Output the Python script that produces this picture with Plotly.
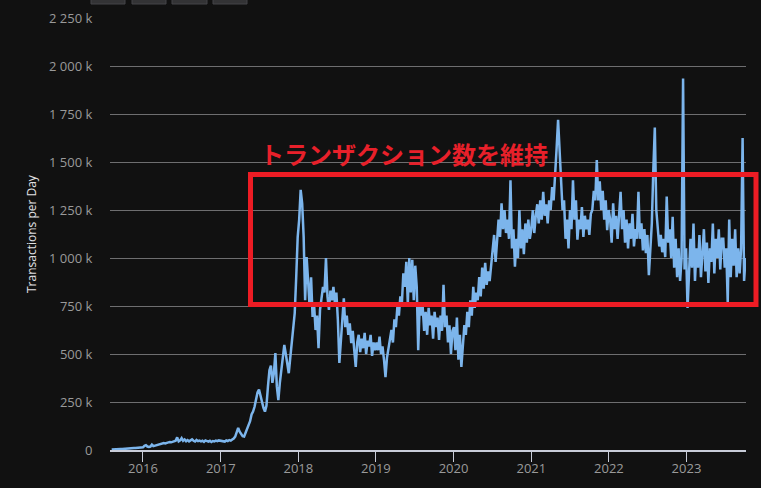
import pandas as pd
import plotly.graph_objects as go

# Weekly readings of Ethereum transactions per day (thousands)
v2015 = [2, 3, 3, 4, 4, 5, 5, 5, 6, 6, 7, 8, 8, 9, 9, 10, 10, 11, 12, 13, 14]
v2016 = [14, 22, 25, 18, 16, 18, 28, 20, 22, 24, 26, 30, 33, 32, 36, 34, 38, 40,
         42, 40, 44, 46, 48, 66, 45, 50, 62, 48, 55, 46, 52, 45, 50, 55, 48,
         44, 52, 46, 49, 45, 48, 42, 50, 46, 44, 48, 42, 47, 45, 49, 46, 50, 48]
v2017 = [46, 48, 44, 50, 47, 52, 49, 55, 60, 70, 90, 115, 95, 80, 72, 70, 90,
         100, 130, 150, 185, 200, 225, 260, 300, 315, 280, 250, 220, 200, 230,
         330, 415, 440, 350, 400, 505, 330, 260, 350, 420, 480, 547, 500, 453,
         400, 480, 557, 640, 713, 900, 1110]
v2018 = [1200, 1355, 1285, 1110, 780, 1005, 880, 745, 900, 693, 760, 625, 700,
         530, 730, 800, 850, 820, 1000, 800, 730, 830, 780, 850, 765, 820, 677,
         453, 560, 700, 790, 640, 700, 600, 660, 557, 620, 520, 433, 560, 600,
         510, 580, 530, 610, 500, 570, 540, 600, 490, 560, 520]
v2019 = [560, 520, 590, 500, 540, 470, 380, 480, 530, 600, 625, 560, 680, 640,
         745, 700, 800, 760, 920, 850, 980, 760, 1000, 820, 990, 780, 960, 850,
         520, 760, 700, 745, 620, 720, 600, 740, 650, 700, 580, 720, 640, 690,
         573, 700, 620, 860, 640, 700, 560, 650, 500, 620]
v2020 = [640, 520, 690, 470, 600, 433, 560, 650, 600, 720, 640, 780, 700, 850,
         740, 820, 780, 900, 800, 950, 840, 975, 860, 930, 880, 960, 1000, 1120,
         980, 1100, 1200, 1110, 1285, 1150, 1250, 1130, 1200, 1100, 1405, 1050,
         1150, 955, 1100, 1000, 1250, 1050, 1150, 1020, 1180, 1080, 1200, 1100]
v2021 = [1150, 1250, 1130, 1220, 1280, 1180, 1300, 1200, 1345, 1220, 1280, 1180,
         1300, 1250, 1370, 1300, 1480, 1570, 1720, 1560, 1400, 1250, 1300, 1100,
         1200, 1050, 1250, 1150, 1405, 1200, 1300, 1095, 1200, 1150, 1265, 1110,
         1220, 1150, 1200, 1120, 1230, 1250, 1350, 1300, 1510, 1300, 1400, 1250,
         1350, 1200, 1300, 1145, 1250]
v2022 = [1200, 1080, 1285, 1150, 1220, 1100, 1250, 1345, 1150, 1250, 1080, 1200,
         1050, 1180, 1100, 1230, 1060, 1150, 1100, 1345, 1100, 1180, 1040, 1150,
         1025, 1120, 910, 1080, 1180, 1460, 1680, 1250, 1130, 1060, 1120, 1030,
         1100, 1005, 1320, 1080, 1150, 1000, 1215, 950, 1100, 900, 1050, 880,
         1000, 1935, 940, 1050]
v2023 = [740, 900, 1100, 950, 1180, 880, 1050, 950, 1120, 900, 1000, 1150, 930,
         1080, 870, 1050, 980, 1180, 920, 1100, 1000, 1150, 940, 1100, 1100, 950,
         1050, 770, 1200, 900, 1100, 960, 1150, 900, 1050, 920, 1050, 1625, 880,
         1000]

blocks = [("2015-08-07", v2015), ("2016-01-01", v2016), ("2017-01-06", v2017),
          ("2018-01-05", v2018), ("2019-01-04", v2019), ("2020-01-03", v2020),
          ("2021-01-01", v2021), ("2022-01-07", v2022), ("2023-01-06", v2023)]

dates, values = [], []
for start, vals in blocks:
    dates.extend(pd.date_range(start, periods=len(vals), freq="7D"))
    values.extend(vals)

y_ticks = [0, 250, 500, 750, 1000, 1250, 1500, 1750, 2000, 2250]
y_labels = ["0", "250 k", "500 k", "750 k", "1 000 k", "1 250 k", "1 500 k",
            "1 750 k", "2 000 k", "2 250 k"]

W, H = 761, 488
L, R, T, B = 110, 15, 18, 38
pw, ph = W - L - R, H - T - B


def px(x):
    return (x - L) / pw


def py(y):
    return (H - B - y) / ph


fig = go.Figure()
fig.add_trace(go.Scatter(x=dates, y=values, mode="lines",
                         line=dict(color="#7cb5ec", width=2.5), showlegend=False))

shapes = []
# range selector buttons (cut off at top)
for x0, x1 in [(91, 125), (132, 166), (172, 207), (213, 247)]:
    shapes.append(dict(type="rect", xref="paper", yref="paper",
                       x0=px(x0), x1=px(x1), y0=py(4), y1=py(-6),
                       fillcolor="#333335", line=dict(color="#454548", width=1)))
# red highlight box
shapes.append(dict(type="rect", xref="paper", yref="paper",
                   x0=px(250.5), x1=px(756), y0=py(304.5), y1=py(174.5),
                   line=dict(color="#ed1c24", width=5), fillcolor="rgba(0,0,0,0)"))

fig.update_layout(
    width=W, height=H,
    margin=dict(l=L, r=R, t=T, b=B),
    paper_bgcolor="#111111", plot_bgcolor="#111111",
    font=dict(family="Open Sans", color="#9a9a9a", size=12),
    shapes=shapes,
    annotations=[
        dict(text="トランザクション数を維持", xref="paper", yref="paper",
             x=px(403.5), y=py(153), xanchor="center", yanchor="middle",
             showarrow=False,
             font=dict(family="Noto Sans CJK JP", size=24, color="#e8202a",
                       weight="bold")),
        dict(text="Transactions per Day", xref="paper", yref="paper",
             x=px(31), y=0.5, xanchor="center", yanchor="middle",
             textangle=-90, showarrow=False,
             font=dict(family="Open Sans", size=12, color="#e0e0e3")),
    ],
)
fig.update_xaxes(
    type="date", range=["2015-07-30", "2023-10-08"], automargin=False,
    showgrid=False, zeroline=False,
    showline=True, linecolor="#c8ccd8", linewidth=1.5,
    ticks="outside", ticklen=10, tickcolor="#c8ccd8", tickwidth=1,
    tick0="2016-01-01", dtick="M12", tickformat="%Y",
    ticklabelstandoff=-4,
    tickfont=dict(size=13, color="#9a9a9a"),
)
fig.update_yaxes(
    range=[0, 2250], tickvals=y_ticks, ticktext=y_labels, automargin=False,
    showgrid=True, gridcolor="#6e6e70", gridwidth=1, zeroline=False,
    ticks="outside", ticklen=14, tickcolor="rgba(0,0,0,0)",
    tickfont=dict(size=13, color="#9a9a9a"),
)

fig.write_html("out.html", config={"displayModeBar": False},
               post_script="document.body.style.margin='0px';"
                           "document.body.style.background='#111111';")
